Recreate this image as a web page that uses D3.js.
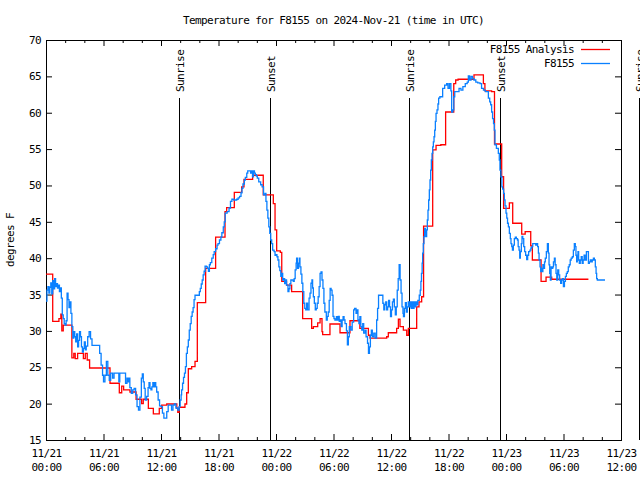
<!DOCTYPE html>
<html><head><meta charset="utf-8">
<script src="https://cdn.jsdelivr.net/npm/d3@7"></script>
<style>
body{margin:0;background:#fff}
svg{display:block;background:#fff}
text{font-family:"DejaVu Sans Mono","Liberation Mono",monospace;font-size:11px;letter-spacing:-0.6px;fill:#000}
</style></head><body>
<svg id="c" width="640" height="480"></svg>
<script>
const title = "Temperature for F8155 on 2024-Nov-21 (time in UTC)";
const yLabel = "degrees F";
const seriesNames = ["F8155 Analysis", "F8155"];
const seriesColors = ["#ff0000", "#0a80ff"];
const yTicks = [15,20,25,30,35,40,45,50,55,60,65,70];
const xMajorHours = [0,6,12,18,24,30,36,42,48,54,60];
const xMinorHours = [2,4,8,10,14,16,20,22,26,28,32,34,38,40,44,46,50,52,56,58];
const sunriseHours = [13.91, 37.91, 61.85];
const sunsetHours = [23.37, 47.37];

// Analysis (hours since 2024-11-21 00:00 UTC, deg F)
const anlHours = [0,0.7,1.35,1.55,1.65,1.8,2.7,2.9,3.05,3.3,
 3.9,4.1,4.3,4.55,6.68,7.65,7.9,8.1,8.76,9.4,
 9.98,10.15,10.68,11.2,11.82,12.07,12.6,13.65,13.75,13.9,
 14.5,14.68,14.85,15.2,15.55,15.79,16.66,17.7,18.68,18.85,
 19.65,20.42,20.66,21.56,22.67,23.72,23.9,24.07,24.45,24.6,
 25.1,25.63,26.78,27.72,27.9,28.35,28.6,28.8,28.87,29.63,
 30.68,31.72,32.75,33.64,33.81,35.55,35.72,36.59,36.77,36.94,
 37.29,37.64,37.81,38.68,38.92,39.2,39.4,40.35,40.7,41.2,
 41.7,42.55,42.75,43.0,44.66,45.64,45.8,46.5,46.8,47.55,
 47.75,48.35,48.7,49.64,50.0,50.58,50.75,51.66,52.18,52.77,
 56.6];
const anlTemps = [37.8,31.3,31.7,32.3,30.0,30.8,26.3,26.9,26.2,26.9,
 26.2,26.9,26.0,24.9,22.8,21.5,22.4,21.9,21.6,20.6,
 20.0,20.6,19.35,18.6,19.35,19.8,19.95,19.35,18.8,19.5,
 19.95,21.5,24.8,25.1,25.8,33.9,38.6,42.9,46.4,46.95,
 49.05,49.8,50.84,51.4,48.7,47.5,43.9,41.0,40.8,36.8,
 36.3,35.4,31.7,30.35,30.6,31.1,31.7,29.9,29.5,30.95,
 29.75,31.4,30.35,29.4,29.0,29.2,29.75,30.35,31.6,30.6,
 30.1,29.4,30.35,33.3,34.0,34.7,44.4,54.9,55.5,55.6,
 60.1,64.0,64.5,64.6,65.2,64.0,63.0,62.9,55.7,51.2,
 46.85,47.6,44.8,43.3,43.65,41.7,39.75,36.8,37.4,37.1,
 37.1];

// Observations
const obsHours = [0,0.1,0.2,0.3,0.4,0.5,0.6,0.7,0.8,0.9,
 1.0,1.1,1.2,1.3,1.4,1.5,1.6,1.7,1.8,1.9,
 2.0,2.1,2.2,2.3,2.4,2.5,2.6,2.7,2.8,2.9,
 3.0,3.1,3.2,3.3,3.4,3.5,3.6,3.7,3.8,3.9,
 4.0,4.1,4.2,4.35,4.5,4.65,4.8,5.6,5.75,5.9,
 6.0,6.15,6.3,6.45,6.6,6.75,6.95,7.1,7.6,7.7,
 8.3,8.45,8.55,8.65,8.75,8.9,9.05,9.2,9.35,9.5,
 9.65,9.8,9.95,10.05,10.15,10.25,10.35,10.5,10.65,10.75,
 10.85,10.95,11.05,11.15,11.25,11.35,11.45,11.55,11.7,11.85,
 12.0,12.15,12.3,12.6,12.75,13.1,13.25,13.4,13.55,13.75,
 13.9,14.0,14.1,14.15,14.25,14.35,14.45,14.55,14.65,14.75,
 14.85,14.95,15.05,15.15,15.25,15.35,15.45,15.55,16.0,16.1,
 16.2,16.3,16.4,16.5,16.6,16.75,16.85,16.95,17.05,17.15,
 17.3,17.45,17.55,17.7,17.85,17.95,18.1,18.25,18.35,18.5,
 18.6,18.7,18.9,19.1,19.25,19.4,19.6,19.9,20.05,20.2,
 20.35,20.45,20.55,20.7,20.8,20.95,21.05,21.35,21.45,21.55,
 21.65,21.75,21.85,21.95,22.05,22.2,22.4,22.55,22.7,22.85,
 22.95,23.05,23.15,23.25,23.35,23.45,23.55,23.65,23.8,23.9,
 24.0,24.1,24.2,24.3,24.4,24.5,24.6,24.7,24.8,24.9,
 25.0,25.1,25.25,25.35,25.45,25.55,25.8,25.9,26.0,26.1,
 26.15,26.25,26.35,26.45,26.5,26.6,26.7,26.8,26.9,27.0,
 27.1,27.2,27.3,27.45,27.55,27.65,27.75,27.82,27.9,28.0,
 28.1,28.2,28.3,28.4,28.5,28.6,28.7,28.8,28.9,29.0,
 29.1,29.25,29.35,29.45,29.55,29.65,29.75,29.85,29.95,30.05,
 30.15,30.3,30.4,30.5,30.6,30.7,30.8,30.9,31.0,31.1,
 31.2,31.35,31.45,31.55,31.65,31.8,31.95,32.1,32.2,32.35,
 32.45,32.55,32.65,32.75,32.85,32.95,33.05,33.15,33.3,33.4,
 33.55,33.65,33.75,33.85,33.95,34.05,34.2,34.35,34.5,34.6,
 34.7,35.15,35.25,35.35,35.45,35.55,35.65,35.75,35.85,35.95,
 36.05,36.15,36.25,36.35,36.45,36.55,36.65,36.75,36.85,36.95,
 37.05,37.15,37.25,37.3,37.4,37.5,37.6,37.7,37.8,37.9,
 38.0,38.1,38.2,38.3,38.4,38.5,38.6,38.7,38.8,38.95,
 39.05,39.12,39.18,39.25,39.3,39.37,39.44,39.51,39.58,39.65,
 39.72,39.79,39.86,39.93,40.0,40.07,40.14,40.21,40.28,40.35,
 40.42,40.49,40.56,40.63,40.7,40.8,40.9,40.97,41.1,41.39,
 41.6,41.81,41.95,42.1,42.25,42.33,42.45,42.55,42.65,43.1,
 43.3,43.5,43.75,43.95,44.07,44.2,44.35,44.5,44.65,44.85,
 45.05,45.29,45.45,45.65,45.85,46.16,46.3,46.4,46.5,46.6,
 46.7,46.78,46.85,47.0,47.2,47.3,47.37,47.47,47.57,47.65,
 47.75,47.83,47.9,48.0,48.08,48.16,48.25,48.35,48.45,48.52,
 48.6,48.67,48.77,48.87,48.97,49.08,49.2,49.27,49.36,49.43,
 49.5,49.6,49.67,49.75,49.85,49.95,50.05,50.16,50.26,50.36,
 50.5,50.6,50.7,50.79,51.1,51.2,51.3,51.38,51.45,51.55,
 51.62,51.7,51.78,51.85,51.95,52.02,52.1,52.21,52.32,52.42,
 52.49,52.56,52.63,52.7,52.78,52.88,52.95,53.05,53.13,53.22,
 53.3,53.4,53.5,53.6,53.7,53.8,53.9,53.99,54.1,54.2,
 54.3,54.4,54.5,54.6,54.7,54.8,54.92,55.03,55.13,55.23,
 55.3,55.37,55.44,55.51,55.58,55.65,55.75,55.85,55.95,56.05,
 56.15,56.25,56.39,56.6,56.7,56.8,56.9,57.0,57.12,57.22,
 57.32,57.4,57.46,57.53,58.33];
const obsTemps = [34.1,35.6,36.1,35.2,36.0,36.6,35.1,36.9,35.8,37.2,
 36.1,36.5,35.9,36.3,35.4,35.9,34.5,32.2,31.7,31.0,
 30.8,31.4,35.2,34.3,33.2,34.0,32.4,30.6,29.0,29.9,
 29.2,28.5,29.6,27.8,28.7,29.9,29.2,27.8,27.1,27.6,
 28.5,27.4,27.9,29.2,29.9,28.9,28.0,26.9,25.3,23.9,
 23.0,23.9,25.8,23.9,23.2,24.2,23.5,24.2,23.0,24.2,
 22.8,23.5,23.0,23.5,22.2,21.4,21.9,22.1,21.2,19.6,
 19.1,20.9,23.5,24.1,23.0,22.1,20.5,21.0,22.2,22.9,
 22.1,21.9,22.3,22.9,22.3,22.9,22.3,21.6,20.5,19.7,
 19.6,18.7,18.0,18.9,19.8,19.1,19.8,19.95,19.4,19.1,
 19.6,20.5,21.2,21.9,22.8,23.6,24.2,25.1,26.9,27.8,
 28.75,30.1,31.0,32.0,32.6,33.2,34.3,34.9,35.4,35.85,
 36.45,37.0,37.7,38.2,38.9,38.8,38.6,38.2,39.1,39.4,
 40.0,40.5,40.9,41.3,41.8,42.0,42.5,42.9,43.5,44.3,
 45.0,46.2,46.4,46.9,47.8,48.1,48.0,48.1,48.3,48.5,
 49.0,49.6,50.2,50.75,51.1,51.7,52.0,51.7,52.0,51.2,
 52.0,51.7,51.5,51.3,51.0,50.5,50.1,49.8,48.7,48.9,
 47.8,46.6,45.5,44.3,43.4,42.5,42.0,41.1,40.9,40.4,
 40.5,40.2,39.75,38.8,38.3,37.5,37.9,37.0,37.2,36.5,
 37.0,36.3,35.4,35.8,36.5,37.0,36.8,37.2,38.4,39.3,
 40.0,38.6,39.3,40.0,38.8,37.8,36.55,35.4,33.8,33.1,
 32.9,33.8,32.9,34.5,35.2,36.55,37.0,35.9,34.7,33.8,
 32.9,33.1,33.8,34.7,36.1,37.9,38.1,37.0,35.85,33.8,
 32.6,31.5,32.0,32.6,34.2,35.85,35.6,34.9,32.0,31.7,
 31.5,31.96,31.5,32.0,31.3,31.5,30.6,31.5,31.96,31.5,
 31.0,30.0,28.1,29.2,30.6,30.1,31.2,32.9,33.1,32.4,
 32.9,31.5,31.0,31.96,30.6,30.1,31.0,29.7,30.1,29.2,
 28.3,26.9,27.8,29.4,30.1,29.2,29.7,29.0,31.5,33.1,
 34.9,33.8,32.9,33.6,34.0,32.9,33.3,34.2,33.3,31.96,
 32.9,34.0,34.35,33.3,32.2,33.3,35.6,37.2,39.1,37.0,
 35.2,33.3,32.4,31.96,33.1,33.9,32.6,33.3,34.0,33.3,
 34.0,33.1,34.0,33.1,34.0,33.3,34.0,33.6,34.2,34.9,
 35.6,36.8,37.9,39.3,40.7,42.0,42.96,44.1,43.6,42.96,
 43.9,45.25,46.6,48.0,49.4,50.75,52.1,53.5,54.4,55.3,
 56.0,56.7,57.6,58.8,59.9,60.4,61.2,62.0,62.2,63.35,
 63.8,64.0,63.35,64.0,63.0,60.1,60.4,62.2,62.9,63.35,
 63.1,63.6,64.0,64.2,65.05,64.5,65.0,64.7,64.5,64.2,
 64.1,64.0,63.35,63.1,62.9,62.0,61.5,61.1,60.1,59.2,
 58.5,57.6,55.6,55.1,54.4,53.5,52.1,51.2,49.8,49.5,
 48.9,48.0,47.2,46.2,45.5,44.8,44.3,43.4,42.7,42.0,
 41.6,41.1,41.8,42.7,42.9,42.7,42.5,41.6,41.1,40.0,
 40.9,42.0,43.0,42.7,41.6,40.9,40.4,39.8,40.4,40.9,
 41.1,41.4,41.6,42.0,41.8,42.0,41.6,40.7,39.75,38.8,
 38.15,38.6,38.15,39.1,38.6,39.5,40.0,40.9,42.0,40.7,
 39.1,37.9,37.0,38.8,38.6,38.8,39.5,40.0,39.1,37.9,
 37.0,38.4,37.7,37.0,36.55,37.0,37.2,36.1,36.8,37.5,
 37.9,38.15,38.8,39.1,39.75,40.0,40.2,41.1,42.0,41.6,
 40.4,39.5,40.2,40.9,39.75,39.3,39.75,40.2,39.3,39.75,
 40.4,39.75,40.9,39.3,39.5,39.75,39.5,39.75,40.0,39.75,
 38.8,37.9,37.2,37.0,37.0];

const t0 = Date.UTC(2024, 10, 21, 0, 0, 0);
const toDate = h => new Date(t0 + h * 3600e3);

const L = 46, R = 621, T = 40, B = 440;
const x = d3.scaleUtc().domain([toDate(0), toDate(60)]).range([L, R]);
const y = d3.scaleLinear().domain([15, 70]).range([B, T]);

const svg = d3.select("#c");

svg.append("defs").append("clipPath").attr("id", "plotclip")
  .append("rect").attr("x", L).attr("y", T).attr("width", R - L + 1).attr("height", B - T + 1);

// axes: bottom major + minor
const fmt = d3.utcFormat("%m/%d|%H:%M");
const gx = svg.append("g").attr("transform", `translate(0,${B})`)
  .call(d3.axisBottom(x).tickValues(xMajorHours.map(toDate)).tickSizeInner(-6).tickSizeOuter(0).tickFormat(fmt));
gx.select(".domain").remove();
gx.selectAll(".tick text").each(function () {
  const parts = this.textContent.split("|");
  const t = d3.select(this).text(null).attr("dy", null).attr("y", null);
  t.append("tspan").attr("x", 0).attr("y", 17).text(parts[0]);
  t.append("tspan").attr("x", 0).attr("y", 31).text(parts[1]);
});
const gxm = svg.append("g").attr("transform", `translate(0,${B})`)
  .call(d3.axisBottom(x).tickValues(xMinorHours.map(toDate)).tickSizeInner(-3).tickSizeOuter(0).tickFormat(""));
gxm.select(".domain").remove();

// top
const gt = svg.append("g").attr("transform", `translate(0,${T})`)
  .call(d3.axisTop(x).tickValues(xMajorHours.map(toDate)).tickSizeInner(-6).tickSizeOuter(0).tickFormat(""));
gt.select(".domain").remove();
const gtm = svg.append("g").attr("transform", `translate(0,${T})`)
  .call(d3.axisTop(x).tickValues(xMinorHours.map(toDate)).tickSizeInner(-3).tickSizeOuter(0).tickFormat(""));
gtm.select(".domain").remove();

// left & right
const gy = svg.append("g").attr("transform", `translate(${L},0)`)
  .call(d3.axisLeft(y).tickValues(yTicks).tickSizeInner(-6).tickSizeOuter(0).tickPadding(5).tickFormat(d3.format("d")));
gy.select(".domain").remove();
const gyr = svg.append("g").attr("transform", `translate(${R},0)`)
  .call(d3.axisRight(y).tickValues(yTicks).tickSizeInner(-6).tickSizeOuter(0).tickFormat(""));
gyr.select(".domain").remove();

svg.selectAll(".tick line").attr("stroke", "#000");

// border
svg.append("rect").attr("x", L + 0.5).attr("y", T + 0.5).attr("width", R - L).attr("height", B - T)
  .attr("fill", "none").attr("stroke", "#000").attr("stroke-width", 1);

// sunrise / sunset markers
function marker(h, label) {
  const px = Math.round(x(toDate(h))) + 0.5;
  svg.append("line").attr("x1", px).attr("x2", px).attr("y1", 98).attr("y2", B)
    .attr("stroke", "#000").attr("stroke-width", 1);
  svg.append("text").attr("transform", `translate(${px + 4.5},92) rotate(-90)`)
    .attr("text-anchor", "start").text(label);
}
sunriseHours.forEach(h => marker(h, "Sunrise"));
sunsetHours.forEach(h => marker(h, "Sunset"));

// data
const line = d3.line().curve(d3.curveStepAfter).x(d => x(d[0])).y(d => y(d[1]));
const anl = d3.zip(anlHours.map(toDate), anlTemps);
const obs = d3.zip(obsHours.map(toDate), obsTemps);
const gp = svg.append("g").attr("clip-path", "url(#plotclip)");
gp.append("path").datum(anl).attr("d", line).attr("fill", "none")
  .attr("stroke", seriesColors[0]).attr("stroke-width", 1.3);
gp.append("path").datum(obs).attr("d", line).attr("fill", "none")
  .attr("stroke", seriesColors[1]).attr("stroke-width", 1.3);

// legend
seriesNames.forEach((n, i) => {
  const yy = 49 + i * 14;
  svg.append("text").attr("x", 574).attr("y", yy).attr("dy", "0.35em").attr("text-anchor", "end").text(n);
  svg.append("line").attr("x1", 581).attr("x2", 610).attr("y1", yy + 0.5).attr("y2", yy + 0.5)
    .attr("stroke", seriesColors[i]).attr("stroke-width", 1.3);
});

// title & y label
svg.append("text").attr("x", (L + R) / 2).attr("y", 20).attr("dy", "0.35em").attr("text-anchor", "middle").text(title);
svg.append("text").attr("transform", "translate(14,240) rotate(-90)").attr("text-anchor", "middle").text(yLabel);
</script>
</body></html>
